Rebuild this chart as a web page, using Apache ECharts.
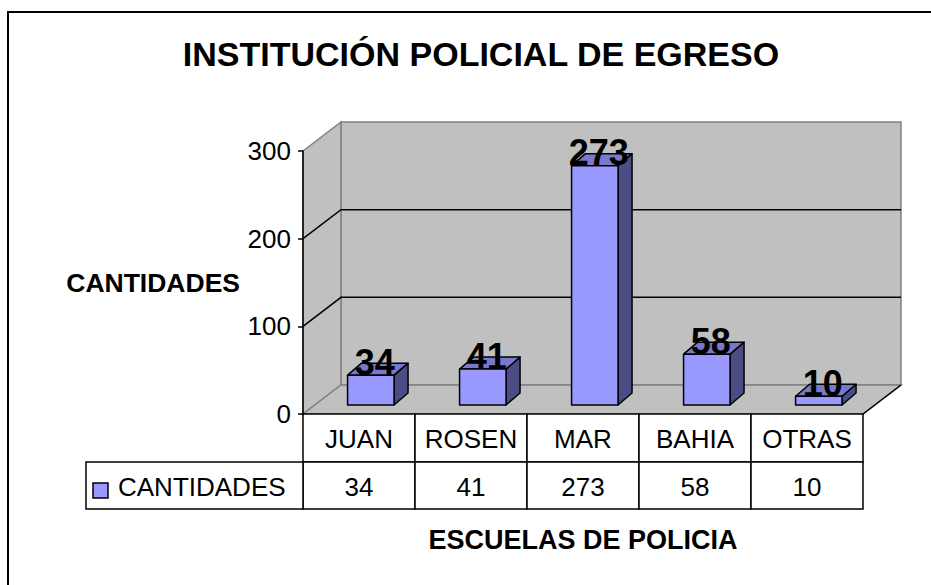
<!DOCTYPE html>
<html>
<head>
<meta charset="utf-8">
<script src="https://cdn.jsdelivr.net/npm/echarts@6/dist/echarts.min.js"></script>
<style>
html,body{margin:0;padding:0;background:#fff;}
#chart{width:931px;height:585px;}
</style>
</head>
<body>
<div id="chart"></div>
<script>
// ---- data ----
const chartTitle = 'INSTITUCIÓN POLICIAL DE EGRESO';
const xTitle = 'ESCUELAS DE POLICIA';
const yTitle = 'CANTIDADES';
const seriesName = 'CANTIDADES';
const categories = ['JUAN', 'ROSEN', 'MAR', 'BAHIA', 'OTRAS'];
const cantidades = [34, 41, 273, 58, 10];
const yTickValues = [0, 100, 200, 300];

// ---- style constants ----
const FONT = '"Liberation Sans", Arial, Helvetica, sans-serif';
const DX = 38, DY = -29;            // wall depth
const BAR_W = 0.415;                // bar width as share of band
const BF_DX = 11.8, BF_DY = -9;     // bar front face offset
const BD_DX = 14, BD_DY = -12;      // bar depth
const ROW1 = 48, ROW2 = 47;         // table rows
const LEG_W = 217;                  // legend cell width

const yMin = yTickValues[0];
const yMax = yTickValues[yTickValues.length - 1];
const barData = cantidades.map((v, i) => [i, v]);

function frame(api) {
  const band = api.size([1, 0])[0];
  const p0 = api.coord([0, yMin]);
  const pN = api.coord([categories.length - 1, yMin]);
  const yt = api.coord([0, yMax])[1];
  return { band, xl: p0[0] - band / 2, xr: pN[0] + band / 2, yb: p0[1], yt };
}

function renderWalls(params, api) {
  const f = frame(api);
  const wallStyle = { fill: '#C0C0C0', stroke: '#808080', lineWidth: 1.5 };
  return {
    type: 'group',
    children: [
      { type: 'polygon', shape: { points: [[f.xl + DX, f.yt + DY], [f.xr + DX, f.yt + DY], [f.xr + DX, f.yb + DY], [f.xl + DX, f.yb + DY]] }, style: wallStyle },
      { type: 'polygon', shape: { points: [[f.xl, f.yt], [f.xl + DX, f.yt + DY], [f.xl + DX, f.yb + DY], [f.xl, f.yb]] }, style: wallStyle },
      { type: 'polygon', shape: { points: [[f.xl, f.yb], [f.xr, f.yb], [f.xr + DX, f.yb + DY], [f.xl + DX, f.yb + DY]] }, style: wallStyle },
      { type: 'line', shape: { x1: f.xr, y1: f.yb, x2: f.xr + DX, y2: f.yb + DY }, style: { stroke: '#000', lineWidth: 1.5 } }
    ]
  };
}

function renderGrid(params, api) {
  const v = api.value(0);
  if (v === yMin || v === yMax) return null;
  const f = frame(api);
  const y = api.coord([0, v])[1];
  return {
    type: 'polyline',
    shape: { points: [[f.xl, y], [f.xl + DX, y + DY], [f.xr + DX, y + DY]] },
    style: { stroke: '#000', lineWidth: 1.5, fill: null }
  };
}

function renderBar(params, api) {
  const i = api.value(0), v = api.value(1);
  const c = api.coord([i, yMin]);
  const t = api.coord([i, v]);
  const band = api.size([1, 0])[0];
  const w = band * BAR_W;
  const x0 = c[0] - w / 2 + BF_DX, x1 = x0 + w;
  const yb = c[1] + BF_DY, yt = t[1] + BF_DY;
  const edge = { stroke: '#000', lineWidth: 1.5, lineJoin: 'round' };
  return {
    type: 'group',
    children: [
      { type: 'polygon', shape: { points: [[x1, yt], [x1 + BD_DX, yt + BD_DY], [x1 + BD_DX, yb + BD_DY], [x1, yb]] }, style: Object.assign({ fill: '#4D4D85' }, edge) },
      { type: 'polygon', shape: { points: [[x0, yt], [x1, yt], [x1 + BD_DX, yt + BD_DY], [x0 + BD_DX, yt + BD_DY]] }, style: Object.assign({ fill: '#7878CC' }, edge) },
      { type: 'rect', shape: { x: x0, y: yt, width: w, height: yb - yt }, style: Object.assign({ fill: '#9999FF' }, edge) },
      { type: 'text', style: { text: String(v), x: x0 + w / 2 + 4, y: yt - 13, fill: '#000', font: 'bold 36px ' + FONT, textAlign: 'center', textVerticalAlign: 'middle' } }
    ]
  };
}

function renderTable(params, api) {
  const i = api.value(0), v = api.value(1);
  const f = frame(api);
  const c = api.coord([i, yMin]);
  const x = c[0] - f.band / 2;
  const cell = { fill: '#fff', stroke: '#000', lineWidth: 1.5 };
  const txt = (s, cx, cy) => ({ type: 'text', style: { text: s, x: cx, y: cy, fill: '#000', font: '26px ' + FONT, textAlign: 'center', textVerticalAlign: 'middle' } });
  const children = [
    { type: 'rect', shape: { x: x, y: f.yb, width: f.band, height: ROW1 }, style: cell },
    { type: 'rect', shape: { x: x, y: f.yb + ROW1, width: f.band, height: ROW2 }, style: cell },
    txt(categories[i], c[0], f.yb + ROW1 / 2 + 1),
    txt(String(v), c[0], f.yb + ROW1 + ROW2 / 2 + 1)
  ];
  if (i === 0) {
    const lx = f.xl - LEG_W;
    const ly = f.yb + ROW1;
    children.push(
      { type: 'rect', shape: { x: lx, y: ly, width: LEG_W, height: ROW2 }, style: cell },
      { type: 'rect', shape: { x: lx + 7, y: ly + 21, width: 15, height: 15 }, style: { fill: '#9999FF', stroke: '#000', lineWidth: 1.5 } },
      { type: 'text', style: { text: seriesName, x: lx + 32, y: ly + ROW2 / 2 + 1, fill: '#000', font: '26px ' + FONT, textAlign: 'left', textVerticalAlign: 'middle' } }
    );
  }
  return { type: 'group', children };
}

const chart = echarts.init(document.getElementById('chart'), null, { renderer: 'svg' });
chart.setOption({
  backgroundColor: '#fff',
  animation: false,
  title: {
    text: chartTitle,
    left: 476, top: 32, textAlign: 'center',
    textStyle: { fontFamily: FONT, fontSize: 34, fontWeight: 'bold', color: '#000' }
  },
  graphic: [{
    type: 'rect', shape: { x: 8, y: 12, width: 1000, height: 1000 },
    style: { fill: null, stroke: '#000', lineWidth: 2 }, z: 100, silent: true
  }],
  grid: { left: 303, right: 68, top: 151, bottom: 171, containLabel: false },
  xAxis: {
    type: 'category', data: categories,
    axisLine: { show: false }, axisTick: { show: false }, axisLabel: { show: false }, splitLine: { show: false },
    name: xTitle, nameLocation: 'middle', nameGap: 126,
    nameTextStyle: { fontFamily: FONT, fontSize: 27, fontWeight: 'bold', color: '#000', align: 'center', verticalAlign: 'middle' }
  },
  yAxis: {
    type: 'value', min: yMin, max: yMax, interval: 100, z: 10,
    axisLine: { show: true, lineStyle: { color: '#000', width: 1.5 } },
    axisTick: { show: true, inside: false, length: 5, lineStyle: { color: '#000', width: 1.5 } },
    axisLabel: { fontFamily: FONT, fontSize: 26, color: '#000', margin: 12 },
    splitLine: { show: false },
    name: yTitle, nameLocation: 'middle', nameRotate: 0, nameGap: 63,
    nameTextStyle: { fontFamily: FONT, fontSize: 26.5, fontWeight: 'bold', color: '#000', align: 'right', verticalAlign: 'middle', padding: [0, 0, 6, 0] }
  },
  series: [
    { type: 'custom', name: 'walls', z: 1, silent: true, data: [[0, yMin]], renderItem: renderWalls },
    { type: 'custom', name: 'grid', z: 2, silent: true, data: yTickValues.map(v => [v]), encode: { x: -1, y: 0 }, renderItem: renderGrid },
    { type: 'custom', name: seriesName, z: 3, data: barData, encode: { x: 0, y: 1 }, renderItem: renderBar },
    { type: 'custom', name: 'table', z: 4, silent: true, data: barData, encode: { x: 0, y: 1 }, renderItem: renderTable }
  ]
});
</script>
</body>
</html>
